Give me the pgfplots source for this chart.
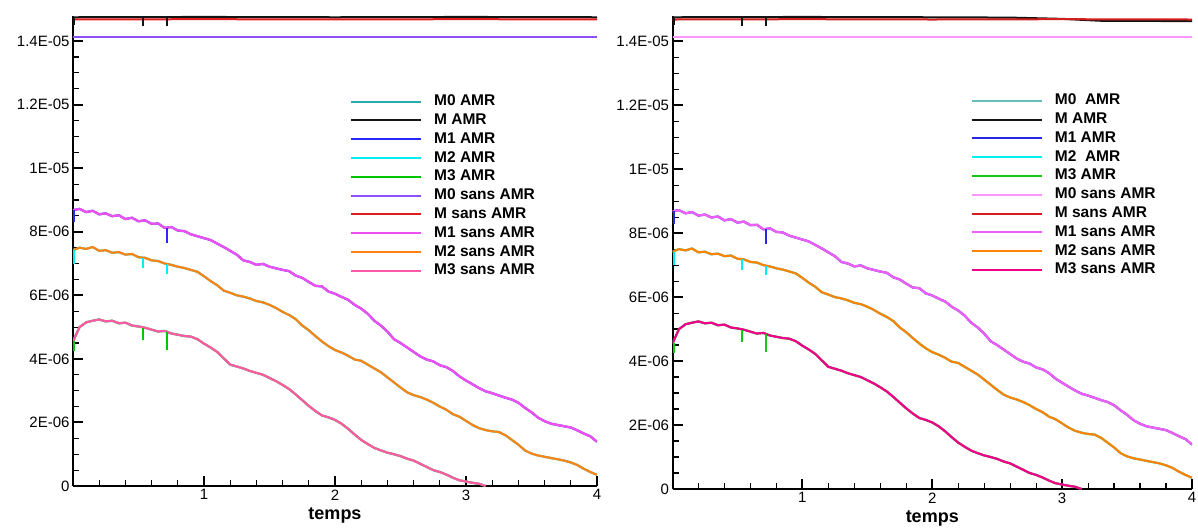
\documentclass[border=0pt]{standalone}
\usepackage{fontspec}
\setmainfont{Liberation Sans}
\usepackage{pgfplots}
\usepackage{pgfplotstable}
\pgfplotsset{compat=1.18}

% left panel colours
\definecolor{LmzA}{RGB}{40,170,170}
\definecolor{LmA}{RGB}{20,20,20}
\definecolor{LmoA}{RGB}{40,40,255}
\definecolor{LmtA}{RGB}{0,240,240}
\definecolor{LmthA}{RGB}{0,200,0}
\definecolor{LmzS}{RGB}{140,80,250}
\definecolor{LmS}{RGB}{225,30,30}
\definecolor{LmoS}{RGB}{240,80,240}
\definecolor{LmtS}{RGB}{255,130,20}
\definecolor{LmthS}{RGB}{255,90,170}
% right panel colours
\definecolor{RmzA}{RGB}{100,190,190}
\definecolor{RmA}{RGB}{20,20,20}
\definecolor{RmoA}{RGB}{40,40,220}
\definecolor{RmtA}{RGB}{0,240,240}
\definecolor{RmthA}{RGB}{20,200,20}
\definecolor{RmzS}{RGB}{255,150,255}
\definecolor{RmS}{RGB}{210,30,30}
\definecolor{RmoS}{RGB}{240,95,245}
\definecolor{RmtS}{RGB}{255,130,0}
\definecolor{RmthS}{RGB}{240,0,140}

% values in units of 1E-06
\pgfplotstableread{
t v
0.00 8.68
0.05 8.72
0.10 8.62
0.15 8.66
0.20 8.55
0.25 8.58
0.30 8.49
0.35 8.52
0.40 8.40
0.45 8.44
0.50 8.33
0.55 8.36
0.60 8.25
0.65 8.26
0.70 8.12
0.75 8.15
0.80 8.04
0.85 8.02
0.90 7.92
0.95 7.86
1.00 7.80
1.05 7.74
1.10 7.63
1.15 7.52
1.20 7.40
1.25 7.28
1.30 7.10
1.35 7.05
1.40 6.96
1.45 6.99
1.50 6.90
1.55 6.85
1.60 6.80
1.65 6.76
1.70 6.62
1.75 6.55
1.80 6.42
1.85 6.30
1.90 6.28
1.95 6.12
2.00 6.05
2.05 5.95
2.10 5.86
2.15 5.70
2.20 5.58
2.25 5.42
2.30 5.20
2.35 5.05
2.40 4.86
2.45 4.62
2.50 4.50
2.55 4.36
2.60 4.22
2.65 4.08
2.70 3.98
2.75 3.92
2.80 3.80
2.85 3.74
2.90 3.62
2.95 3.45
3.00 3.32
3.05 3.20
3.10 3.08
3.15 2.98
3.20 2.92
3.25 2.85
3.30 2.78
3.35 2.72
3.40 2.62
3.45 2.46
3.50 2.32
3.55 2.15
3.60 2.04
3.65 1.96
3.70 1.92
3.75 1.88
3.80 1.84
3.85 1.75
3.90 1.65
3.95 1.56
4.00 1.39
}\mone

\pgfplotstableread{
t v
0.00 7.42
0.05 7.50
0.10 7.46
0.15 7.52
0.20 7.40
0.25 7.42
0.30 7.34
0.35 7.36
0.40 7.28
0.45 7.30
0.50 7.20
0.55 7.18
0.60 7.10
0.65 7.08
0.70 7.00
0.75 6.96
0.80 6.90
0.85 6.86
0.90 6.80
0.95 6.74
1.00 6.60
1.05 6.45
1.10 6.32
1.15 6.15
1.20 6.08
1.25 6.00
1.30 5.96
1.35 5.90
1.40 5.82
1.45 5.78
1.50 5.70
1.55 5.60
1.60 5.48
1.65 5.38
1.70 5.25
1.75 5.05
1.80 4.90
1.85 4.72
1.90 4.55
1.95 4.40
2.00 4.28
2.05 4.20
2.10 4.10
2.15 3.98
2.20 3.94
2.25 3.82
2.30 3.70
2.35 3.58
2.40 3.42
2.45 3.26
2.50 3.10
2.55 2.95
2.60 2.86
2.65 2.80
2.70 2.72
2.75 2.62
2.80 2.50
2.85 2.40
2.90 2.26
2.95 2.18
3.00 2.05
3.05 1.92
3.10 1.82
3.15 1.76
3.20 1.72
3.25 1.70
3.30 1.60
3.35 1.45
3.40 1.30
3.45 1.12
3.50 1.02
3.55 0.96
3.60 0.92
3.65 0.88
3.70 0.84
3.75 0.80
3.80 0.74
3.85 0.66
3.90 0.54
3.95 0.44
4.00 0.35
}\mtwo

\pgfplotstableread{
t v
0.00 4.55
0.05 5.00
0.10 5.15
0.15 5.20
0.20 5.24
0.25 5.18
0.30 5.20
0.35 5.12
0.40 5.14
0.45 5.05
0.50 5.02
0.55 4.98
0.60 4.92
0.65 4.86
0.70 4.88
0.75 4.80
0.80 4.76
0.85 4.72
0.90 4.70
0.95 4.62
1.00 4.48
1.05 4.36
1.10 4.22
1.15 4.02
1.20 3.82
1.25 3.76
1.30 3.70
1.35 3.62
1.40 3.56
1.45 3.50
1.50 3.40
1.55 3.30
1.60 3.18
1.65 3.05
1.70 2.88
1.75 2.70
1.80 2.52
1.85 2.36
1.90 2.22
1.95 2.16
2.00 2.08
2.05 1.96
2.10 1.80
2.15 1.62
2.20 1.45
2.25 1.32
2.30 1.20
2.35 1.12
2.40 1.05
2.45 1.00
2.50 0.94
2.55 0.86
2.60 0.80
2.65 0.70
2.70 0.60
2.75 0.50
2.80 0.44
2.85 0.36
2.90 0.26
2.95 0.18
3.00 0.14
3.05 0.10
3.10 0.07
3.15 0.00
}\mthree

\pgfplotsset{
  panel/.style={
    scale only axis,
    xmin=0, xmax=4, ymin=0, ymax=14.79,
    axis x line=bottom, axis y line=left,
    axis line style={-, line width=2pt, black},
    tick align=inside,
    xtick={0,1,2,3,4}, xticklabels={,1,2,3,4},
    minor x tick num=4,
    ytick={0,2,4,6,8,10,12,14},
    yticklabels={0,2E-06,4E-06,6E-06,8E-06,1E-05,1.2E-05,1.4E-05},
    minor y tick num=3,
    major tick length=10pt, minor tick length=6pt,
    major tick style={line width=2pt, black},
    minor tick style={line width=1.2pt, black},
    tick label style={font=\fontsize{15}{18}\selectfont},
    xlabel={\textbf{temps}},
    xlabel style={font=\fontsize{18}{20}\selectfont, at={(axis description cs:0.5,0)}, anchor=center, yshift=-29pt},
    legend cell align=left,
    legend image code/.code={\draw[#1, line width=2pt] (0pt,0pt) -- (70pt,0pt);},
    legend style={draw=none, fill=none, inner sep=0pt, anchor=north west,
      font=\bfseries\fontsize{15.5}{18}\selectfont, row sep=4.8pt, column sep=12pt,
      nodes={inner sep=0pt, text height=11pt, text depth=3pt}},
    clip=true,
  },
  noisy/.style={line width=2.2pt},
  flat/.style={line width=2pt},
  spike/.style={line width=2pt, forget plot, unbounded coords=jump},
}

\begin{document}
\begin{tikzpicture}
\useasboundingbox (0,0) rectangle (1198pt,527pt);

% ---------------- left panel ----------------
\begin{axis}[panel, at={(73pt,41pt)}, anchor=south west, width=524pt, height=470pt,
  legend style={at={(axis description cs:0.5286,0.833)}},
  legend entries={M0 AMR,M AMR,M1 AMR,M2 AMR,M3 AMR,M0 sans AMR,M sans AMR,M1 sans AMR,M2 sans AMR,M3 sans AMR}]
\addplot[LmzA, flat] coordinates {(0,14.12) (1,14.12) (2,14.12) (3,14.12) (4,14.12)};
\addplot[LmA, flat] coordinates {(0,14.75) (1,14.76) (2,14.75) (3,14.76) (4,14.75)};
\addplot[LmoA, noisy] table {\mone};
\addplot[LmtA, noisy] table {\mtwo};
\addplot[LmthA, noisy] table {\mthree};
\addplot[LmzS, flat] coordinates {(0,14.12) (1,14.12) (2,14.12) (3,14.12) (4,14.12)};
\addplot[LmS, flat] coordinates {(0,14.68) (1,14.69) (2,14.68) (3,14.69) (4,14.68)};
\addplot[LmoS, noisy] table {\mone};
\addplot[LmtS, noisy] table {\mtwo};
\addplot[LmthS, noisy] table {\mthree};
% AMR spikes
\addplot[LmA, spike] coordinates {(0.01,14.75) (0.01,14.5) (0.54,nan) (0.537,14.76) (0.537,14.48) (0.6,nan) (0.72,14.76) (0.72,14.48)};
\addplot[LmoA, spike] coordinates {(0.01,8.68) (0.01,8.3) (0.5,nan) (0.72,8.12) (0.72,7.65)};
\addplot[LmtA, spike] coordinates {(0.01,7.42) (0.01,7.0) (0.3,nan) (0.537,7.18) (0.537,6.85) (0.6,nan) (0.72,6.98) (0.72,6.68)};
\addplot[LmthA, spike] coordinates {(0.01,4.55) (0.01,4.25) (0.3,nan) (0.537,4.98) (0.537,4.6) (0.6,nan) (0.72,4.86) (0.72,4.28)};
\end{axis}

% ---------------- right panel ----------------
\begin{axis}[panel, at={(672.5pt,38pt)}, anchor=south west, width=519.5pt, height=473pt,
  legend style={at={(axis description cs:0.574,0.836)}},
  legend entries={M0\ \ AMR,M AMR,M1 AMR,M2\ \ AMR,M3 AMR,M0 sans AMR,M sans AMR,M1 sans AMR,M2 sans AMR,M3 sans AMR}]
\addplot[RmzA, flat] coordinates {(0,14.12) (1,14.12) (2,14.12) (3,14.12) (4,14.12)};
\addplot[RmA, flat] coordinates {(0,14.75) (1,14.76) (2,14.75) (2.6,14.74) (3.0,14.70) (3.3,14.64) (4,14.63)};
\addplot[RmoA, noisy] table {\mone};
\addplot[RmtA, noisy] table {\mtwo};
\addplot[RmthA, noisy] table {\mthree};
\addplot[RmzS, flat] coordinates {(0,14.12) (1,14.12) (2,14.12) (3,14.12) (4,14.12)};
\addplot[RmS, flat] coordinates {(0,14.68) (1,14.69) (2,14.68) (3,14.69) (4,14.68)};
\addplot[RmoS, noisy] table {\mone};
\addplot[RmtS, noisy] table {\mtwo};
\addplot[RmthS, noisy] table {\mthree};
% AMR spikes
\addplot[RmA, spike] coordinates {(0.01,14.75) (0.01,14.5) (0.54,nan) (0.537,14.76) (0.537,14.48) (0.6,nan) (0.717,14.76) (0.717,14.48)};
\addplot[RmoA, spike] coordinates {(0.01,8.68) (0.01,8.3) (0.5,nan) (0.72,8.12) (0.72,7.65)};
\addplot[RmtA, spike] coordinates {(0.01,7.42) (0.01,7.0) (0.3,nan) (0.537,7.18) (0.537,6.85) (0.6,nan) (0.72,6.98) (0.72,6.68)};
\addplot[RmthA, spike] coordinates {(0.01,4.55) (0.01,4.25) (0.3,nan) (0.537,4.98) (0.537,4.6) (0.6,nan) (0.72,4.86) (0.72,4.28)};
\end{axis}
\end{tikzpicture}
\end{document}
